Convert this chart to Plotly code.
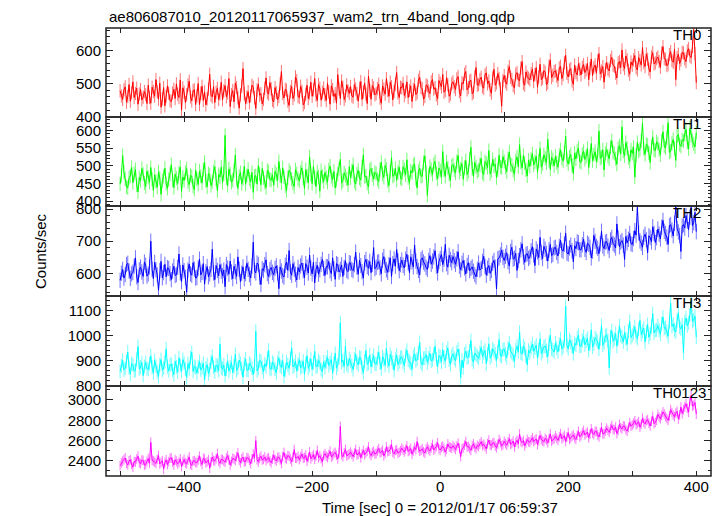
import plotly.graph_objects as go

TITLE = "ae806087010_20120117065937_wam2_trn_4band_long.qdp"
X_TITLE = "Time [sec] 0 = 2012/01/17 06:59:37"
Y_TITLE = "Counts/sec"
band_names = ["TH0", "TH1", "TH2", "TH3", "TH0123"]
band_colors = ["#ff0000", "#00ff00", "#0000ff", "#00ffff", "#ff00ff"]
band_errors = [20, 20, 24, 28, 48]
time_start, time_step = -500, 2
x_tick_vals = [-500, -400, -300, -200, -100, 0, 100, 200, 300, 400]
x_tick_text = ["", "\u2212400", "", "\u2212200", "", "0", "", "200", "", "400"]

th0 = [478,463, 452,481, 490,444, 461,497, 447,472, 505,458, 470,486, 438,469, 482,451, 459,476,
       467,440, 495,458, 441,489, 476,462, 512,475, 453,501, 429,454, 488,433, 462,493, 471,449,
       446,472, 483,455, 499,468, 458,511, 420,487, 474,443, 466,496, 507,460, 448,479, 481,437,
       463,500, 437,471, 492,449, 475,436, 454,483, 528,465, 460,491, 443,474, 486,452, 469,504,
       451,478, 494,460, 472,515, 431,467, 479,445, 502,488, 457,426, 466,493, 545,470, 440,459,
       476,442, 463,495, 489,457, 425,481, 498,465, 470,439, 452,486, 517,473, 468,503, 484,450,
       445,488, 473,452, 461,499, 536,470, 457,483, 480,447, 434,476, 491,455, 466,520, 509,461,
       458,492, 477,436, 443,468, 495,455, 471,504, 462,481, 515,466, 449,497, 486,450, 474,487,
       466,449, 501,475, 438,493, 482,461, 470,441, 527,484, 455,508, 489,452, 463,496, 478,470,
       491,463, 459,497, 484,470, 447,486, 506,452, 475,501, 468,440, 522,479, 453,494, 487,466,
       470,485, 498,456, 441,493, 483,468, 515,479, 462,504, 490,451, 476,497, 533,472, 458,489,
       487,501, 464,476, 505,458, 479,493, 446,482, 498,467, 472,510, 519,488, 484,453, 461,496,
       493,478, 470,505, 512,483, 488,466, 455,509, 501,490, 527,474, 479,518, 496,462, 468,499,
       505,490, 482,514, 521,476, 463,503, 499,528, 536,481, 488,507, 510,469, 474,520, 548,495,
       497,512, 519,490, 486,526, 532,499, 508,481, 471,517, 543,495, 502,530, 515,485, 432,509,
       524,505, 498,537, 551,519, 512,494, 487,528, 533,511, 509,547, 566,500, 495,535, 520,516,
       511,530, 543,506, 527,548, 489,520, 558,512, 516,539, 534,497, 502,553, 571,518, 525,536,
       538,522, 509,547, 552,515, 527,563, 585,531, 520,541, 545,508, 498,556, 533,526, 560,543,
       526,549, 557,533, 541,560, 512,545, 574,524, 548,556, 531,568, 590,529, 537,551, 504,542,
       563,544, 538,569, 579,555, 552,531, 517,562, 566,548, 601,557, 545,583, 571,540, 528,565,
       555,571, 584,548, 541,578, 569,556, 608,563, 551,589, 573,544, 535,580, 593,559, 562,575,
       580,566, 549,592, 611,575, 573,554, 557,587, 596,569, 564,603, 512,578, 588,560, 571,594,
       592,574, 566,598, 605,583, 578,611, 662,590, 503]

th1 = [448,472, 529,481, 463,440, 437,466, 471,495, 452,478, 489,445, 426,467, 458,492, 476,451,
       441,485, 467,453, 495,462, 430,474, 456,439, 482,466, 419,458, 470,493, 449,436, 461,477,
       503,459, 438,476, 465,450, 479,496, 427,468, 458,481, 492,455, 446,473, 470,442, 433,488,
       462,447, 485,470, 451,489, 510,457, 440,478, 473,444, 455,483, 497,461, 429,475, 468,496,
       452,477, 586,465, 444,491, 476,453, 459,486, 530,462, 436,470, 481,449, 463,498, 448,472,
       490,463, 455,481, 425,470, 472,448, 501,476, 446,492, 466,453, 438,487, 483,461, 459,474,
       445,484, 476,458, 512,471, 451,494, 468,443, 430,466, 487,479, 462,450, 441,489, 478,463,
       457,482, 494,465, 436,489, 471,452, 525,476, 449,498, 466,441, 483,469, 428,486, 470,455,
       481,466, 453,488, 499,470, 461,484, 437,459, 476,492, 518,451, 458,480, 472,463, 445,497,
       466,484, 503,455, 448,476, 487,465, 459,497, 531,469, 471,450, 440,488, 492,474, 463,481,
       478,462, 455,489, 510,476, 467,501, 491,458, 444,483, 523,470, 473,492, 459,481, 496,466,
       462,497, 489,474, 517,466, 452,486, 480,501, 505,463, 437,484, 493,470, 471,509, 528,481,
       416,472, 498,489, 475,504, 512,479, 463,493, 486,468, 540,487, 470,511, 494,476, 458,499,
       503,488, 479,512, 529,481, 491,506, 462,495, 515,475, 484,520, 552,492, 470,509, 497,483,
       488,502, 521,480, 475,512, 507,495, 543,477, 486,518, 499,504, 466,489, 530,497, 494,526,
       512,496, 483,520, 539,503, 501,487, 476,514, 525,497, 560,510, 494,529, 508,488, 471,516,
       498,519, 534,502, 511,527, 482,513, 549,496, 506,531, 521,508, 575,515, 490,524, 517,500,
       527,509, 496,530, 545,521, 513,538, 584,517, 505,524, 532,501, 478,536, 519,541, 550,512,
       509,533, 541,518, 526,549, 495,527, 563,514, 531,540, 512,529, 598,521, 524,545, 488,535,
       546,527, 519,552, 571,538, 535,520, 504,549, 557,533, 610,541, 528,566, 550,523, 512,545,
       535,552, 468,529, 566,541, 547,570, 620,548, 532,561, 558,536, 509,554, 581,545, 543,568,
       562,545, 531,570, 596,556, 550,579, 622,538, 541,563, 574,549, 515,584, 588,560, 555,573,
       570,589, 603,566, 548,607, 585,571, 562,553, 594]

th2 = [578,600, 612,585, 596,627, 631,607, 584,598, 603,622, 648,589, 571,611, 619,604, 590,635,
       625,591, 598,620, 700,612, 583,634, 611,595, 547,608, 637,586, 602,628, 589,617, 615,599,
       580,607, 622,593, 596,618, 660,601, 574,626, 608,587, 541,610, 629,598, 594,633, 613,585,
       587,616, 644,595, 603,630, 566,604, 621,589, 598,612, 675,601, 580,624, 609,592, 627,606,
       592,610, 558,627, 616,597, 638,604, 583,622, 605,590, 651,613, 574,600, 620,583, 599,631,
       612,596, 585,622, 697,608, 601,632, 627,588, 565,614, 609,627, 642,599, 590,611, 618,603,
       596,615, 623,601, 552,620, 607,593, 588,625, 635,609, 671,604, 594,630, 612,597, 579,618,
       604,623, 632,608, 586,630, 619,601, 657,616, 598,635, 570,612, 625,597, 611,628, 643,615,
       593,621, 620,637, 608,599, 648,614, 581,630, 627,604, 612,626, 590,618, 639,609, 605,633,
       631,612, 608,627, 666,619, 597,640, 624,605, 585,633, 643,621, 616,637, 602,628, 680,614,
       619,634, 636,617, 598,641, 652,625, 611,603, 627,648, 590,630, 645,622, 674,639, 608,627,
       641,625, 617,644, 659,633, 602,651, 636,620, 688,638, 621,609, 595,642, 648,635, 629,618,
       612,640, 655,628, 638,651, 670,622, 601,637, 646,659, 627,644, 690,630, 619,656, 643,633,
       652,639, 628,645, 667,622, 611,631, 640,617, 598,624, 633,608, 615,620, 606,596, 589,612,
       632,610, 615,637, 653,622, 594,616, 624,600, 609,631, 640,619, 551,645, 648,657, 672,650,
       640,653, 664,636, 623,668, 681,644, 647,662, 609,640, 655,673, 692,651, 634,659, 661,646,
       651,670, 683,657, 624,676, 667,649, 712,665, 646,684, 675,662, 638,673, 690,655, 659,679,
       681,665, 654,684, 703,672, 669,691, 725,663, 660,679, 688,670, 636,686, 677,698, 695,674,
       673,689, 706,675, 665,694, 690,681, 648,669, 718,700, 684,678, 661,692, 731,685, 677,697,
       699,685, 671,704, 712,693, 688,679, 754,710, 683,697, 702,688, 643,715, 695,706, 724,692,
       690,708, 733,719, 806,726, 701,694, 681,713, 722,705, 664,717, 712,698, 745,724, 696,711,
       738,722, 707,744, 765,731, 724,713, 690,748, 752,735, 717,756, 808,740, 729,718, 668,747,
       752,741, 780,763, 736,775, 806,749, 758,790, 730]

th3 = [858,880, 902,864, 871,897, 935,873, 846,890, 884,859, 863,906, 957,868, 875,893, 841,877,
       893,869, 866,888, 920,874, 852,901, 879,856, 838,884, 905,862, 871,895, 948,877, 860,883,
       887,862, 845,898, 876,855, 912,881, 859,905, 891,867, 833,889, 869,912, 934,858, 878,874,
       851,876, 897,863, 872,890, 824,870, 885,849, 864,896, 918,875, 856,883, 880,861, 967,872,
       868,884, 840,866, 899,859, 876,893, 853,878, 926,861, 871,903, 889,870, 835,887, 907,864,
       862,891, 884,871, 845,880, 1018,860, 870,902, 898,874, 856,888, 877,910, 943,869, 866,894,
       889,867, 851,893, 912,879, 874,901, 838,862, 896,884, 870,909, 952,876, 881,898, 859,886,
       905,872, 877,899, 846,888, 921,870, 884,907, 866,893, 938,876, 879,902, 893,865, 857,896,
       874,896, 915,881, 892,905, 851,889, 930,871, 885,912, 1052,894, 902,878, 960,887, 879,909,
       898,881, 865,906, 927,893, 884,915, 912,873, 853,899, 941,886, 890,924, 876,902, 921,888,
       887,909, 934,891, 868,917, 905,882, 950,899, 879,926, 911,894, 862,906, 923,885, 896,913,
       915,896, 881,922, 942,903, 897,889, 866,918, 928,900, 906,931, 973,892, 884,910, 911,925,
       893,912, 930,899, 904,926, 958,907, 876,921, 917,895, 945,913, 899,934, 951,903, 886,919,
       928,910, 901,934, 947,919, 833,903, 872,927, 938,912, 916,940, 981,905, 895,931, 924,917,
       910,931, 954,917, 933,942, 889,926, 968,912, 921,948, 940,928, 902,936, 985,921, 918,945,
       946,927, 913,951, 972,939, 931,922, 898,944, 958,936, 1015,931, 927,960, 949,918, 884,942,
       932,950, 967,938, 951,962, 910,945, 988,929, 940,956, 959,941, 917,968, 1003,947, 944,935,
       971,952, 936,966, 988,947, 955,979, 1118,961, 948,984, 975,957, 929,970, 963,990, 1002,959,
       958,981, 997,964, 979,990, 941,970, 1024,955, 968,993, 985,976, 946,988, 1041,962, 973,999,
       1004,982, 872,996, 1021,978, 987,1009, 958,992, 1040,1001, 995,975, 1013,988, 966,1017, 1058,993,
       1001,1013, 1036,998, 989,1027, 1062,1005, 1018,1031, 975,1016, 1045,994, 1008,1037, 1089,1011, 1022,1024,
       1041,1022, 1006,1049, 1075,1030, 1033,1017, 998,1056, 1130,1038, 1047,1024, 1015,1061, 1092,1035, 1028,1044,
       932,1055, 1071,1040, 1052,1083, 1140,1058, 1063,1078, 995]

th0123 = [2352,2380, 2395,2412, 2428,2374, 2361,2399, 2410,2366, 2337,2392, 2389,2418, 2445,2381, 2372,2407, 2404,2358,
          2366,2393, 2421,2377, 2582,2405, 2398,2387, 2375,2414, 2452,2369, 2383,2401, 2318,2384, 2409,2363, 2391,2426,
          2427,2388, 2359,2411, 2395,2370, 2386,2419, 2344,2392, 2413,2378, 2371,2406, 2438,2365, 2356,2397, 2402,2383,
          2381,2408, 2445,2394, 2363,2425, 2417,2380, 2390,2411, 2328,2387, 2436,2402, 2399,2421, 2470,2396, 2375,2413,
          2412,2398, 2386,2427, 2451,2410, 2359,2393, 2424,2417, 2403,2441, 2478,2405, 2381,2420, 2437,2389, 2395,2431,
          2428,2404, 2372,2419, 2465,2433, 2598,2411, 2389,2425, 2446,2408, 2415,2437, 2402,2422, 2431,2398, 2380,2416,
          2455,2413, 2398,2431, 2437,2409, 2373,2442, 2482,2425, 2419,2451, 2446,2418, 2391,2436, 2510,2427, 2428,2444,
          2412,2440, 2468,2425, 2431,2456, 2395,2433, 2487,2419, 2442,2461, 2416,2447, 2503,2430, 2450,2422, 2389,2452,
          2471,2446, 2432,2463, 2495,2439, 2448,2472, 2483,2455, 2419,2476, 2740,2461, 2440,2480, 2512,2449, 2458,2467,
          2486,2463, 2441,2477, 2512,2458, 2465,2489, 2430,2470, 2503,2461, 2478,2495, 2537,2472, 2452,2483, 2494,2466,
          2472,2497, 2521,2480, 2486,2503, 2449,2474, 2538,2491, 2495,2512, 2560,2485, 2468,2502, 2510,2477, 2483,2499,
          2524,2506, 2487,2514, 2548,2492, 2502,2521, 2465,2498, 2533,2510, 2590,2526, 2495,2503, 2519,2489, 2476,2517,
          2538,2512, 2496,2529, 2561,2506, 2520,2541, 2579,2518, 2507,2533, 2544,2522, 2488,2514, 2566,2537, 2531,2525,
          2549,2530, 2512,2546, 2573,2524, 2440,2518, 2528,2555, 2590,2537, 2541,2522, 2503,2549, 2567,2534, 2520,2551,
          2541,2566, 2588,2549, 2562,2540, 2517,2570, 2604,2557, 2553,2574, 2579,2546, 2530,2563, 2611,2580, 2548,2559,
          2592,2570, 2554,2587, 2618,2563, 2571,2595, 2536,2581, 2602,2568, 2665,2592, 2580,2599, 2547,2576, 2610,2588,
          2583,2603, 2627,2590, 2604,2615, 2561,2598, 2650,2611, 2596,2588, 2621,2606, 2578,2620, 2665,2594, 2609,2617,
          2645,2622, 2602,2638, 2668,2617, 2631,2649, 2590,2633, 2679,2612, 2624,2643, 2655,2628, 2611,2652, 2690,2636,
          2650,2677, 2698,2655, 2671,2684, 2627,2662, 2716,2673, 2660,2691, 2689,2658, 2635,2680, 2730,2666, 2668,2694,
          2722,2700, 2681,2719, 2748,2712, 2705,2733, 2668,2698, 2760,2726, 2715,2744, 2739,2708, 2693,2730, 2776,2741,
          2752,2770, 2795,2758, 2768,2786, 2731,2761, 2820,2779, 2764,2797, 2805,2772, 2743,2790, 2838,2766, 2779,2801,
          2858,2830, 2815,2847, 2882,2861, 2836,2819, 2799,2843, 2905,2876, 2851,2835, 2870,2888, 2812,2852, 2930,2866,
          2905,2931, 2962,2918, 2880,2987, 3045,2940, 2948,2975, 2860]

series = [th0, th1, th2, th3, th0123]
y_ranges = [[399.5, 667], [386, 638], [529, 810], [799.5, 1159], [2250, 3138]]
y_dticks = [100, 50, 100, 100, 200]
y_minor = [20, 10, 20, 20, 100]
x_range = [-522, 423]

# The page body has an 8px margin, so the figure starts at (8, 8) on screen.
OFF = 8
W, H = 723 - OFF, 516 - OFF
# plot area in screen pixels
SL, SR, ST, SB = 106, 711, 28, 476
ML, MT = SL - OFF, ST - OFF
MR, MB = W - (SR - OFF), H - (SB - OFF)
PW, PH = W - ML - MR, H - MT - MB
edges_px = [28, 117, 206, 296, 386, 476]  # screen pixels


def px_x(p):
    return (p - SL) / PW


def px_y(p):
    return 1 - (p - ST) / PH


FONT = "Liberation Sans, Arial, Helvetica, sans-serif"
AX = "#222222"

fig = go.Figure()
n = len(series)
for i, (vals, col, err) in enumerate(zip(series, band_colors, band_errors)):
    t = [time_start + time_step * k for k in range(len(vals))]
    sfx = "" if i == 0 else str(i + 1)
    r, g, b = int(col[1:3], 16), int(col[3:5], 16), int(col[5:7], 16)
    fig.add_trace(go.Scatter(
        x=t, y=vals, mode="lines",
        line=dict(color=col, width=1),
        error_y=dict(type="constant", value=err, color=f"rgba({r},{g},{b},0.55)",
                     thickness=1, width=0),
        xaxis="x" + sfx, yaxis="y" + sfx, showlegend=False, hoverinfo="skip"))

layout = dict(width=W, height=H, margin=dict(l=ML, r=MR, t=MT, b=MB, autoexpand=False),
              paper_bgcolor="white", plot_bgcolor="rgba(0,0,0,0)",
              font=dict(family=FONT, size=15, color="black"))

shapes = []
for i in range(n):
    sfx = "" if i == 0 else str(i + 1)
    top, bot = edges_px[i], edges_px[i + 1]
    dom = [max(0.0, px_y(bot)), min(1.0, px_y(top))]
    bottom_panel = (i == n - 1)
    layout["xaxis" + sfx] = dict(
        domain=[0, 1], range=x_range, anchor="y" + sfx, automargin=False,
        showline=False, mirror="ticks",
        ticks="inside", ticklen=5, tickcolor=AX, tickwidth=1,
        tickmode="array", tickvals=x_tick_vals,
        ticktext=x_tick_text if bottom_panel else [""] * len(x_tick_vals),
        showticklabels=bottom_panel,
        showgrid=False, zeroline=False, tickfont=dict(size=15),
    )
    layout["yaxis" + sfx] = dict(
        domain=dom, range=y_ranges[i], anchor="x" + sfx, automargin=False,
        showline=False, mirror="ticks",
        ticks="inside", ticklen=7, tickcolor=AX, tickwidth=1,
        dtick=y_dticks[i], tick0=0, showgrid=False, zeroline=False,
        minor=dict(dtick=y_minor[i], ticks="inside", ticklen=3.5, tickcolor=AX,
                   tickwidth=1, showgrid=False),
        tickfont=dict(size=15), ticklabelstandoff=4,
    )
    shapes.append(dict(type="rect", xref="paper", yref="paper", x0=0, x1=1,
                       y0=dom[0], y1=dom[1], line=dict(color=AX, width=1.5),
                       fillcolor="rgba(0,0,0,0)", layer="above"))
layout["shapes"] = shapes

annotations = [
    dict(text=TITLE, xref="paper", yref="paper", x=px_x(107), y=1,
         xanchor="left", yanchor="bottom", showarrow=False, font=dict(size=15), yshift=1),
    dict(text=Y_TITLE, xref="paper", yref="paper", x=px_x(40), y=px_y(251),
         xanchor="center", yanchor="middle", textangle=-90, showarrow=False, font=dict(size=15)),
    dict(text=X_TITLE, xref="paper", yref="paper", x=px_x(440), y=px_y(507),
         xanchor="center", yanchor="middle", showarrow=False, font=dict(size=15)),
]
label_right = [703, 703, 703, 703, 708]
for i, name in enumerate(band_names):
    annotations.append(dict(text=name, xref="paper", yref="paper",
                            x=px_x(label_right[i]), y=px_y(edges_px[i]),
                            xanchor="right", yanchor="top", showarrow=False,
                            font=dict(size=15), yshift=4))
layout["annotations"] = annotations
fig.update_layout(**layout)
fig.write_html("out.html")
